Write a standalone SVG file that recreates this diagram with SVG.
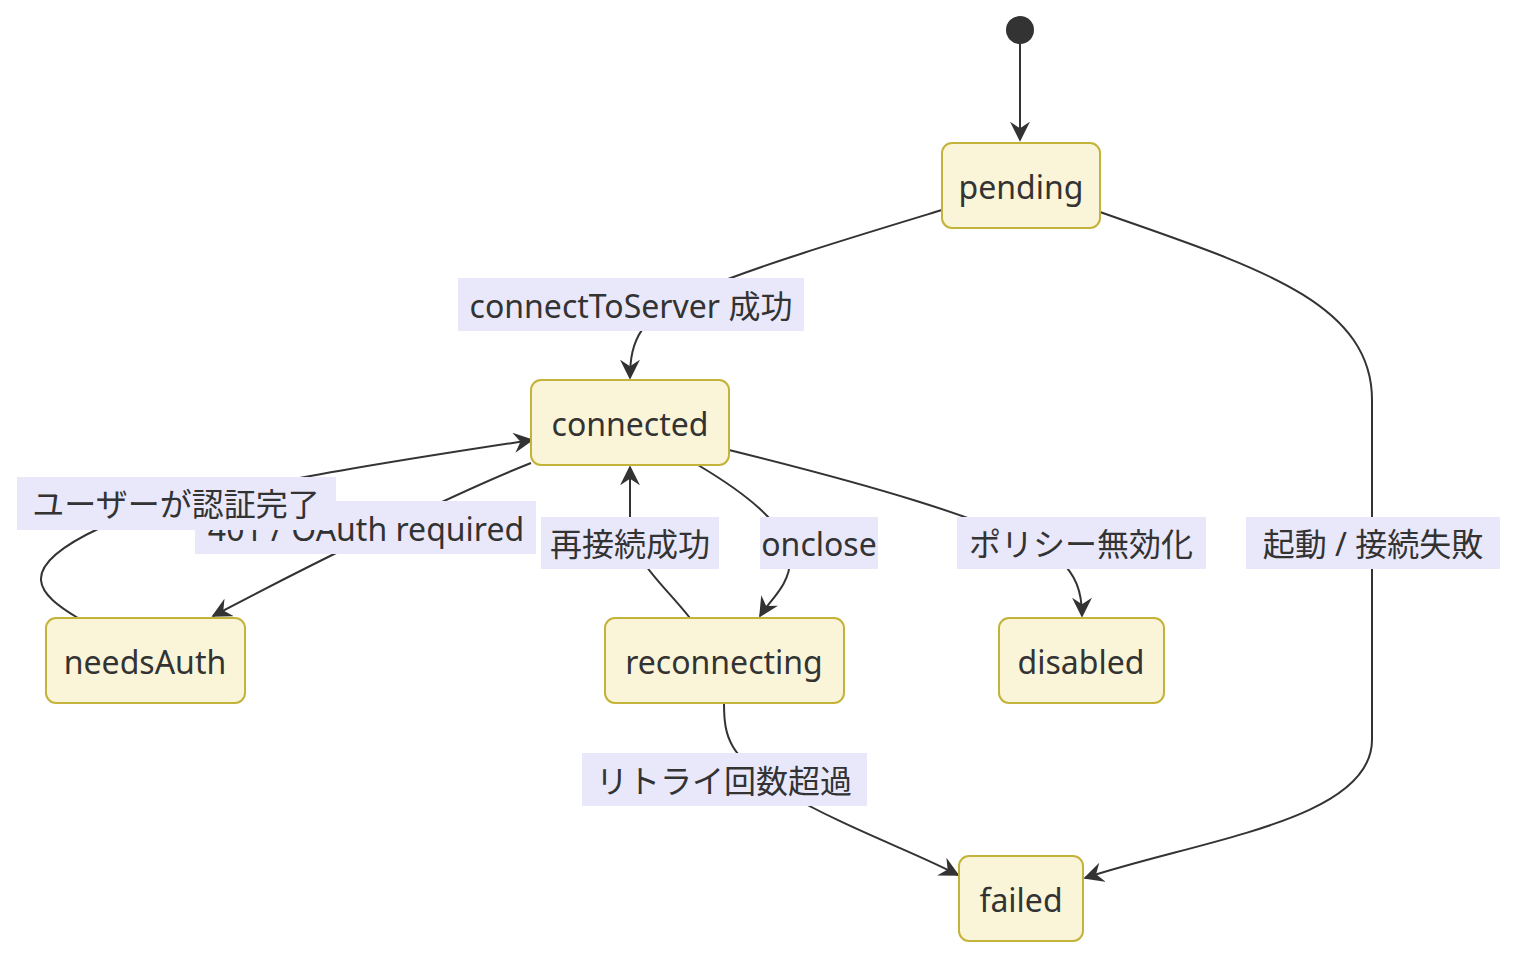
<svg xmlns="http://www.w3.org/2000/svg" width="1532" height="966" viewBox="0 0 1532 966">
<style>
.n rect{fill:#FAF5D8;stroke:#C4B33A;stroke-width:2}
text{font-family:"Noto Sans","Noto Sans CJK JP",sans-serif;font-size:32px;fill:#333;text-anchor:middle;dominant-baseline:central}
.e path{fill:none;stroke:#333;stroke-width:2;marker-end:url(#a)}
.l rect{fill:#E9E8FB}
</style>
<defs>
<marker id="a" viewBox="0 0 12 12" refX="11" refY="6" markerWidth="20" markerHeight="20" markerUnits="userSpaceOnUse" orient="auto">
<path d="M0,0 L12,6 L0,12 L4,6 z" fill="#333"/>
</marker>
</defs>
<rect width="1532" height="966" fill="#fff"/>
<g id="connectors" class="e">
<path d="M1020,44 L1020,140"/>
<path d="M942,210 C850,238 760,265 700,290 C640,315 630,340 630,378"/>
<path d="M1100,212 C1250,265 1372,300 1372,400 L1372,740 C1372,820 1200,840 1085,878"/>
<path d="M531,463 C450,495 300,570 213,616"/>
<path d="M78,618 C40,595 10,570 100,528 C200,490 400,460 532,440"/>
<path d="M698,465 C740,490 790,525 790,560 C790,585 770,600 760,616"/>
<path d="M690,618 C660,580 630,560 630,520 L630,467"/>
<path d="M729,450 C850,480 1000,520 1060,560 C1075,575 1082,590 1082,616"/>
<path d="M724,703 C724,740 730,755 780,790 C850,830 910,850 958,875"/>
</g>
<g id="labels" class="l">
<g><rect x="458" y="278" width="346" height="53"/><text x="631" y="305">connectToServer 成功</text></g>
<g><rect x="195" y="501" width="341" height="53"/><text x="366" y="528">401 / OAuth required</text></g>
<g><rect x="17" y="477" width="319" height="53"/><text x="176" y="503">ユーザーが認証完了</text></g>
<g><rect x="541" y="517" width="178" height="52"/><text x="630" y="543">再接続成功</text></g>
<g><rect x="760" y="517" width="118" height="52"/><text x="819" y="543">onclose</text></g>
<g><rect x="957" y="517" width="249" height="52"/><text x="1081" y="543">ポリシー無効化</text></g>
<g><rect x="1246" y="517" width="254" height="52"/><text x="1373" y="543">起動 / 接続失敗</text></g>
<g><rect x="582" y="753" width="285" height="53"/><text x="724" y="780">リトライ回数超過</text></g>
</g>
<circle id="start" cx="1020" cy="30" r="14" fill="#333"/>
<g id="pending" class="n"><rect x="942" y="143" width="158" height="85" rx="10"/><text x="1021" y="186">pending</text></g>
<g id="connected" class="n"><rect x="531" y="380" width="198" height="85" rx="10"/><text x="630" y="423">connected</text></g>
<g id="needsAuth" class="n"><rect x="46" y="618" width="199" height="85" rx="10"/><text x="145" y="661">needsAuth</text></g>
<g id="reconnecting" class="n"><rect x="605" y="618" width="239" height="85" rx="10"/><text x="724" y="661">reconnecting</text></g>
<g id="disabled" class="n"><rect x="999" y="618" width="165" height="85" rx="10"/><text x="1081" y="661">disabled</text></g>
<g id="failed" class="n"><rect x="959" y="856" width="124" height="85" rx="10"/><text x="1021" y="899">failed</text></g>
</svg>
